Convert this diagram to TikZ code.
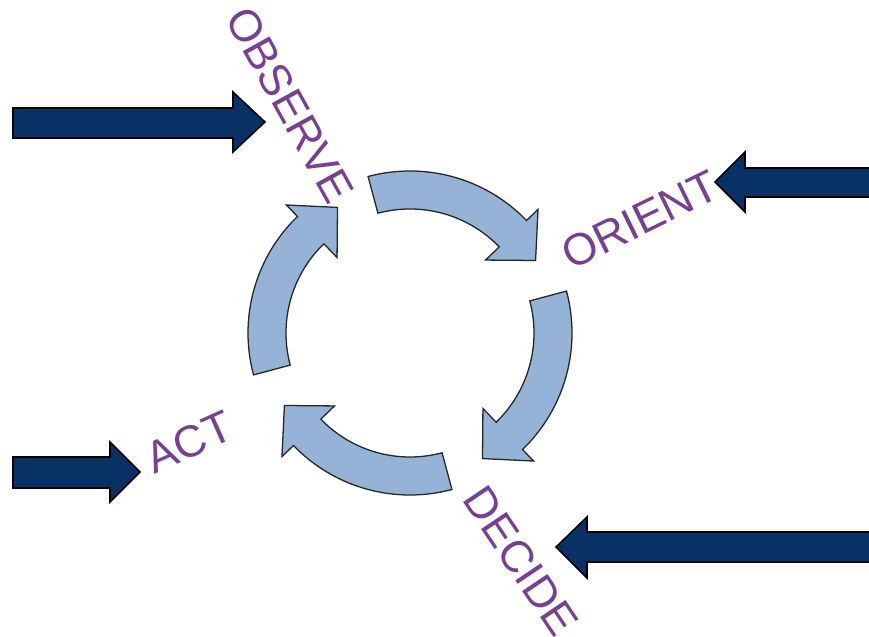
\documentclass[tikz,border=0pt]{standalone}
\usepackage{fontspec}
\setmainfont{Liberation Sans}
\definecolor{cyclefill}{RGB}{149,179,215}
\definecolor{navy}{RGB}{8,50,102}
\definecolor{phasepurple}{RGB}{118,64,148}

\begin{document}
\begin{tikzpicture}[x=0.03cm, y=0.03cm,
  cyc/.style={draw=black!85, line width=1.1pt, fill=cyclefill, line join=miter},
  feed/.style={draw=black, line width=1.3pt, fill=navy},
  phase/.style={text=phasepurple, font=\fontsize{38}{40}\selectfont, inner sep=0pt}
]
  \useasboundingbox (0,0) rectangle (869,636);
  \coordinate (c) at (410,303);

  % phase labels
  \node[phase, rotate=-61] (observe) at (290,531) {OBSERVE};
  \node[phase, rotate=26] (orient) at (640,416) {ORIENT};
  \node[phase, rotate=-56] (decide) at (521,75) {DECIDE};
  \node[phase, rotate=24] (act) at (189,194) {ACT};

  % cycle arrows
  \foreach \i in {0,1,2,3}
    \draw[cyc, shift={(c)}, rotate=-90*\i]
      (105:162) arc[start angle=105, end angle=44, radius=162] -- (44:178) -- (30:145)
      -- (44:105) -- (44:124) arc[start angle=44, end angle=105, radius=124] -- cycle;

  % input arrows
  \draw[feed] (13,498) -- (233,498) -- (233,484) -- (265,514) -- (233,544) -- (233,528) -- (13,528) -- cycle;
  \draw[feed] (871,439) -- (745,439) -- (745,424) -- (715,454) -- (745,484) -- (745,468) -- (871,468) -- cycle;
  \draw[feed] (871,74) -- (587,74) -- (587,58) -- (556,89) -- (587,119) -- (587,104) -- (871,104) -- cycle;
  \draw[feed] (13,148) -- (110,148) -- (110,134) -- (140,164) -- (110,194) -- (110,179) -- (13,179) -- cycle;
\end{tikzpicture}
\end{document}
